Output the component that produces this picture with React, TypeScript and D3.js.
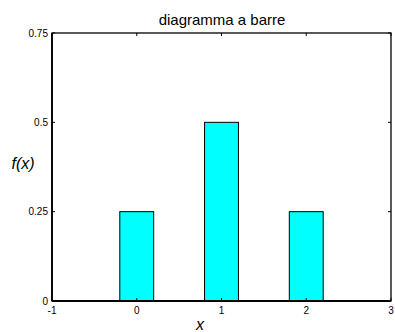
import React from "react";
import * as d3 from "d3";

const categories = [0, 1, 2];
const values = [0.25, 0.5, 0.25];
const xTicks = [-1, 0, 1, 2, 3];
const yTicks = [0, 0.25, 0.5, 0.75];
const yTickLabels = ["0", "0.25", "0.5", "0.75"];
const title = "diagramma a barre";
const xLabel = "x";
const yLabel = "f(x)";

export default function App() {
  const W = 395, H = 332;
  const x = d3.scaleLinear().domain([-1, 3]).range([52, 391]);
  const y = d3.scaleLinear().domain([0, 0.75]).range([301, 33]);
  const barW = 0.4;
  const font = "'Liberation Sans', Arial, sans-serif";
  const tl = 3;
  return (
    <svg width={W} height={H} style={{ position: "absolute", left: 0, top: 0, background: "#fff" }}>
      <rect x={0} y={0} width={W} height={H} fill="#fff" />
      {categories.map((c, i) => (
        <rect
          key={c}
          x={x(c - barW / 2)}
          y={y(values[i])}
          width={x(c + barW / 2) - x(c - barW / 2)}
          height={y(0) - y(values[i])}
          fill="#00ffff"
          stroke="#000"
          strokeWidth={1}
        />
      ))}
      <rect x={x(-1)} y={y(0.75)} width={x(3) - x(-1)} height={y(0) - y(0.75)} fill="none" stroke="#000" strokeWidth={1.3} />
      <line x1={x(-1)} x2={x(3)} y1={y(0)} y2={y(0)} stroke="#000" strokeWidth={2} />
      <line x1={x(-1)} x2={x(-1)} y1={y(0)} y2={y(0.75)} stroke="#000" strokeWidth={1.8} />
      {xTicks.map((t) => (
        <g key={"xt" + t}>
          <line x1={x(t)} x2={x(t)} y1={y(0)} y2={y(0) - tl} stroke="#000" />
          <line x1={x(t)} x2={x(t)} y1={y(0.75)} y2={y(0.75) + tl} stroke="#000" />
          <text x={x(t)} y={y(0) + 13} textAnchor="middle" fontSize={10} fontFamily={font}>{t}</text>
        </g>
      ))}
      {yTicks.map((t, i) => (
        <g key={"yt" + t}>
          <line x1={x(-1)} x2={x(-1) + tl} y1={y(t)} y2={y(t)} stroke="#000" />
          <line x1={x(3)} x2={x(3) - tl} y1={y(t)} y2={y(t)} stroke="#000" />
          <text x={x(-1) - 4} y={y(t) + 3.5} textAnchor="end" fontSize={10} fontFamily={font}>{yTickLabels[i]}</text>
        </g>
      ))}
      <text x={222} y={25} textAnchor="middle" fontSize={15} fontFamily={font}>{title}</text>
      <text x={200} y={330} textAnchor="middle" fontSize={16} fontStyle="italic" fontFamily={font}>{xLabel}</text>
      <text x={23} y={169} textAnchor="middle" fontSize={16} fontStyle="italic" fontFamily={font}>{yLabel}</text>
    </svg>
  );
}
